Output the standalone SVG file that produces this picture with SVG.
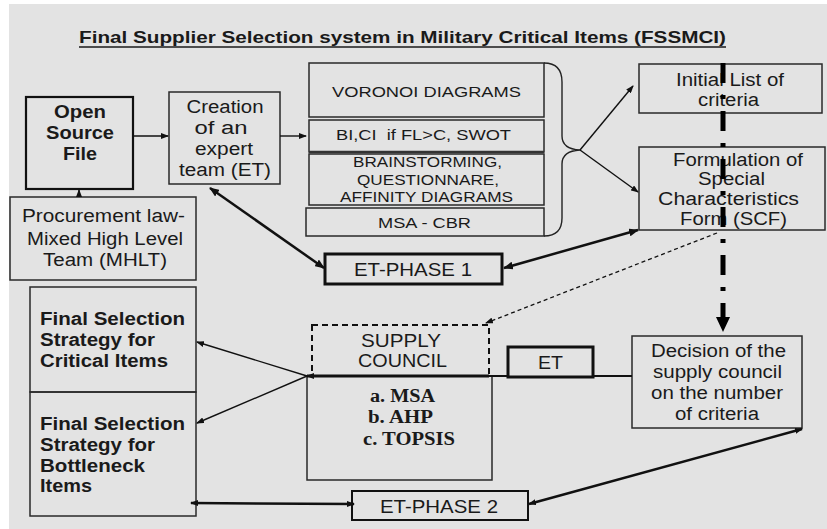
<svg xmlns="http://www.w3.org/2000/svg" width="827" height="529" viewBox="0 0 827 529">
<style>
.t{font-family:"Liberation Sans",Arial,sans-serif;font-size:18px;fill:#1a1a1a;text-anchor:middle}
.b{font-weight:bold}
.s{font-size:15px}
.sm{font-size:14px}
.l{text-anchor:start}
.serif{font-family:"Liberation Serif","Times New Roman",serif;font-weight:bold;font-size:18px;fill:#1a1a1a}
.box{fill:none;stroke:#2a2a2a;stroke-width:1.5}
.thick{fill:none;stroke:#111;stroke-width:3}
.ln{fill:none;stroke:#111;stroke-width:1.4}
.ln2{fill:none;stroke:#111;stroke-width:2.5}
</style>
<defs>
<marker id="ah" markerUnits="userSpaceOnUse" markerWidth="10" markerHeight="8" refX="9" refY="4" orient="auto-start-reverse">
<path d="M0,0 L10,4 L0,8 z" fill="#111"/>
</marker>
<marker id="ahs" markerUnits="userSpaceOnUse" markerWidth="8" markerHeight="6" refX="7" refY="3" orient="auto-start-reverse">
<path d="M0,0 L8,3 L0,6 z" fill="#111"/>
</marker>
</defs>
<rect x="0" y="0" width="827" height="529" fill="#ffffff"/>
<rect x="9" y="4" width="818" height="525" fill="#e3e3e3"/>

<g id="title">
<text class="t b" x="402.5" y="43" textLength="647" lengthAdjust="spacingAndGlyphs" style="font-size:17px">Final Supplier Selection system in Military Critical Items (FSSMCI)</text>
<line x1="79" y1="47" x2="726" y2="47" stroke="#1a1a1a" stroke-width="1.6"/>
</g>

<g id="open-source-file">
<rect x="26" y="97" width="107" height="92" fill="none" stroke="#111" stroke-width="2.2"/>
<text class="t b" x="80" y="118" textLength="52" lengthAdjust="spacingAndGlyphs">Open</text>
<text class="t b" x="80" y="139" textLength="68" lengthAdjust="spacingAndGlyphs">Source</text>
<text class="t b" x="80" y="160" textLength="34" lengthAdjust="spacingAndGlyphs">File</text>
</g>

<g id="creation">
<rect x="169" y="92" width="111" height="92" class="box" stroke="#444"/>
<text class="t" x="225" y="113" textLength="77" lengthAdjust="spacingAndGlyphs">Creation</text>
<text class="t" x="221" y="134" textLength="53" lengthAdjust="spacingAndGlyphs">of an</text>
<text class="t" x="224" y="155" textLength="58" lengthAdjust="spacingAndGlyphs">expert</text>
<text class="t" x="225" y="176" textLength="92" lengthAdjust="spacingAndGlyphs">team (ET)</text>
</g>

<g id="procurement">
<rect x="10" y="197" width="186" height="83" class="box"/>
<text class="t" x="103.5" y="222" textLength="163" lengthAdjust="spacingAndGlyphs">Procurement law-</text>
<text class="t" x="105" y="245" textLength="156" lengthAdjust="spacingAndGlyphs">Mixed High Level</text>
<text class="t" x="105" y="266" textLength="124" lengthAdjust="spacingAndGlyphs">Team (MHLT)</text>
</g>

<g id="voronoi">
<rect x="309" y="63" width="235" height="54" class="box"/>
<text class="t s" x="426.5" y="97" textLength="189" lengthAdjust="spacingAndGlyphs">VORONOI DIAGRAMS</text>
</g>
<g id="bici">
<rect x="309" y="120" width="235" height="32" class="box"/>
<line x1="309" y1="152" x2="544" y2="152" stroke="#333" stroke-width="2.5"/>
<text class="t s" x="423.5" y="140" textLength="175" lengthAdjust="spacingAndGlyphs">BI,CI&#160;&#160;if FL&gt;C, SWOT</text>
</g>
<g id="brainstorming">
<rect x="309" y="154" width="235" height="51" class="box"/>
<text class="t sm" x="427.5" y="167" textLength="149" lengthAdjust="spacingAndGlyphs">BRAINSTORMING,</text>
<text class="t sm" x="428" y="185" textLength="142" lengthAdjust="spacingAndGlyphs">QUESTIONNARE,</text>
<text class="t sm" x="426.5" y="202" textLength="173" lengthAdjust="spacingAndGlyphs">AFFINITY DIAGRAMS</text>
</g>
<g id="msa-cbr">
<rect x="306" y="208" width="238" height="28" class="box"/>
<text class="t s" x="424.5" y="228" textLength="93" lengthAdjust="spacingAndGlyphs">MSA - CBR</text>
</g>
<g id="brace">
<path d="M544,63 Q562,63 562,82 L562,136 Q562,149 580,150 Q562,151 562,164 L562,218 Q562,236 544,236" fill="none" stroke="#222" stroke-width="1.4"/>
</g>

<g id="initial-list">
<rect x="639" y="64" width="183" height="49" class="box" stroke="#555"/>
<text class="t" x="730" y="86" textLength="108" lengthAdjust="spacingAndGlyphs">Initial List of</text>
<text class="t" x="728.5" y="106" textLength="61" lengthAdjust="spacingAndGlyphs">criteria</text>
</g>

<g id="formulation">
<rect x="639" y="147" width="186" height="83" class="box" stroke="#555"/>
<text class="t" x="738" y="166" textLength="130" lengthAdjust="spacingAndGlyphs">Formulation of</text>
<text class="t" x="731.5" y="185" textLength="67" lengthAdjust="spacingAndGlyphs">Special</text>
<text class="t" x="728.5" y="205" textLength="141" lengthAdjust="spacingAndGlyphs">Characteristics</text>
<text class="t" x="733.5" y="225" textLength="107" lengthAdjust="spacingAndGlyphs">Form (SCF)</text>
</g>

<g id="et-phase-1">
<rect x="325" y="254" width="177" height="30" class="thick"/>
<text class="t" x="413" y="276" textLength="118" lengthAdjust="spacingAndGlyphs">ET-PHASE 1</text>
</g>

<g id="supply-council">
<rect x="312" y="325" width="177" height="51" fill="none" stroke="#111" stroke-width="2" stroke-dasharray="6 4"/>
<text class="t" x="401" y="347" textLength="80" lengthAdjust="spacingAndGlyphs">SUPPLY</text>
<text class="t" x="402.5" y="367" textLength="89" lengthAdjust="spacingAndGlyphs">COUNCIL</text>
</g>

<g id="methods">
<path d="M307,376 L307,480 L492,480 L492,376" class="box"/>
<text class="serif" x="370" y="402" textLength="65" lengthAdjust="spacingAndGlyphs">a. MSA</text>
<text class="serif" x="368" y="423" textLength="65" lengthAdjust="spacingAndGlyphs">b. AHP</text>
<text class="serif" x="363" y="445" textLength="92" lengthAdjust="spacingAndGlyphs">c. TOPSIS</text>
</g>

<g id="et">
<rect x="508" y="347" width="85" height="30" class="thick"/>
<text class="t" x="550.5" y="369" textLength="25" lengthAdjust="spacingAndGlyphs">ET</text>
</g>

<g id="decision">
<rect x="632" y="336" width="170" height="92" class="box" stroke="#444"/>
<text class="t" x="718.5" y="357" textLength="135" lengthAdjust="spacingAndGlyphs">Decision of the</text>
<text class="t" x="717.5" y="378" textLength="129" lengthAdjust="spacingAndGlyphs">supply council</text>
<text class="t" x="717" y="399" textLength="132" lengthAdjust="spacingAndGlyphs">on the number</text>
<text class="t" x="717" y="420" textLength="84" lengthAdjust="spacingAndGlyphs">of criteria</text>
</g>

<g id="final-critical">
<rect x="30" y="287" width="166" height="105" class="box"/>
<text class="t b l" x="40" y="325" textLength="145" lengthAdjust="spacingAndGlyphs">Final Selection</text>
<text class="t b l" x="40" y="346" textLength="115" lengthAdjust="spacingAndGlyphs">Strategy for</text>
<text class="t b l" x="40" y="367" textLength="128" lengthAdjust="spacingAndGlyphs">Critical Items</text>
</g>

<g id="final-bottleneck">
<rect x="30" y="392" width="166" height="124" class="box"/>
<text class="t b l" x="40" y="430" textLength="145" lengthAdjust="spacingAndGlyphs">Final Selection</text>
<text class="t b l" x="40" y="451" textLength="115" lengthAdjust="spacingAndGlyphs">Strategy for</text>
<text class="t b l" x="40" y="472" textLength="105" lengthAdjust="spacingAndGlyphs">Bottleneck</text>
<text class="t b l" x="40" y="492" textLength="52" lengthAdjust="spacingAndGlyphs">Items</text>
</g>

<g id="et-phase-2">
<rect x="352" y="491" width="176" height="29" fill="none" stroke="#111" stroke-width="2"/>
<text class="t" x="439" y="513" textLength="118" lengthAdjust="spacingAndGlyphs">ET-PHASE 2</text>
</g>

<g id="connectors">
<line x1="133" y1="136" x2="168" y2="136" class="ln" marker-end="url(#ahs)"/>
<line x1="280" y1="136" x2="306" y2="136" class="ln" marker-end="url(#ahs)"/>
<line x1="79" y1="197" x2="79" y2="190" class="ln" stroke-width="2" marker-end="url(#ahs)"/>
<line x1="580" y1="150" x2="633" y2="86" class="ln" marker-end="url(#ahs)"/>
<line x1="580" y1="150" x2="638" y2="192" class="ln" marker-end="url(#ahs)"/>
<line x1="210" y1="188" x2="324" y2="268" class="ln2" marker-start="url(#ah)" marker-end="url(#ah)"/>
<line x1="638" y1="230" x2="504" y2="268" class="ln2" marker-start="url(#ah)" marker-end="url(#ah)"/>
<line x1="717" y1="233" x2="486" y2="323" fill="none" stroke="#111" stroke-width="1.3" stroke-dasharray="4 3" marker-end="url(#ahs)"/>
<line x1="723" y1="63" x2="723" y2="318" stroke="#000" stroke-width="5" stroke-dasharray="20 12 4 12"/>
<polygon points="716,317 730,317 723,332" fill="#000"/>
<line x1="307" y1="376" x2="489" y2="376" stroke="#111" stroke-width="3" marker-start="url(#ahs)"/>
<line x1="489" y1="376" x2="508" y2="376" stroke="#111" stroke-width="2"/>
<line x1="593" y1="376" x2="632" y2="376" stroke="#111" stroke-width="2"/>
<line x1="307" y1="376" x2="197" y2="342" class="ln" marker-end="url(#ahs)"/>
<line x1="307" y1="376" x2="197" y2="423" class="ln" marker-end="url(#ahs)"/>
<line x1="191" y1="503" x2="354" y2="504" class="ln2" marker-start="url(#ahs)" marker-end="url(#ahs)"/>
<line x1="529" y1="504" x2="802" y2="429" class="ln2" stroke-width="2" marker-start="url(#ahs)" marker-end="url(#ahs)"/>
</g>
</svg>
